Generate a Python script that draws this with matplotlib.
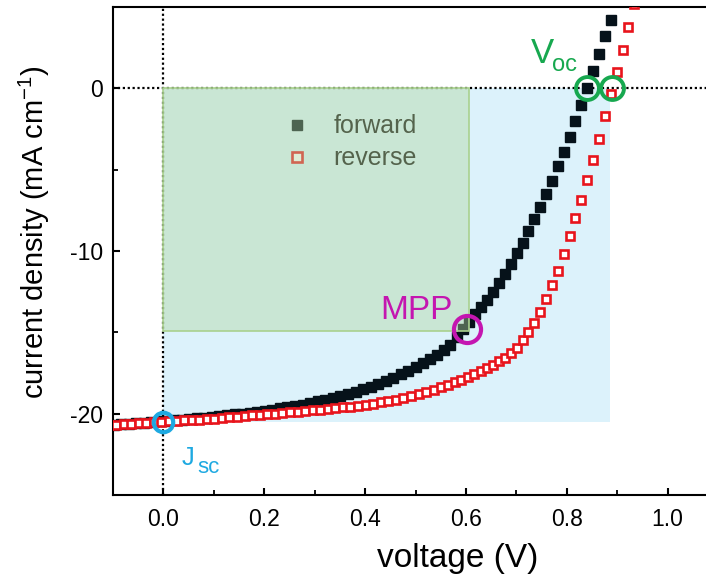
import matplotlib
matplotlib.use("Agg")
import matplotlib.pyplot as plt
import matplotlib.ticker as ticker
from matplotlib.patches import Rectangle

plt.rcParams['font.family'] = ['Liberation Sans', 'DejaVu Sans']
plt.rcParams['axes.unicode_minus'] = False

# forward sweep (V, mA cm^-1)
v_fwd = [-0.099, -0.084, -0.069, -0.054, -0.039, -0.024, -0.009, 0.006, 0.021, 0.036,
         0.051, 0.066, 0.081, 0.096, 0.111, 0.126, 0.141, 0.156, 0.171, 0.186,
         0.201, 0.216, 0.231, 0.246, 0.261, 0.276, 0.291, 0.306, 0.321, 0.336,
         0.351, 0.366, 0.381, 0.396, 0.411, 0.426, 0.441, 0.456, 0.471, 0.486,
         0.500, 0.514, 0.528, 0.542, 0.556, 0.569, 0.582, 0.595, 0.607, 0.618,
         0.630, 0.642, 0.654, 0.665, 0.677, 0.689, 0.701, 0.713, 0.724, 0.736,
         0.747, 0.759, 0.771, 0.782, 0.794, 0.806, 0.817, 0.829, 0.841, 0.852,
         0.864, 0.876, 0.887]
j_fwd = [-20.69, -20.66, -20.63, -20.60, -20.56, -20.52, -20.48, -20.44, -20.40, -20.36,
         -20.32, -20.28, -20.24, -20.20, -20.15, -20.10, -20.05, -20.00, -19.94, -19.88,
         -19.82, -19.75, -19.68, -19.61, -19.53, -19.45, -19.35, -19.25, -19.15, -19.05,
         -18.93, -18.80, -18.65, -18.50, -18.33, -18.15, -17.97, -17.78, -17.57, -17.35,
         -17.12, -16.88, -16.63, -16.37, -16.10, -15.75, -15.30, -14.80, -14.35, -13.90,
         -13.45, -13.00, -12.50, -11.95, -11.40, -10.80, -10.15, -9.50, -8.80, -8.05,
         -7.30, -6.50, -5.70, -4.80, -3.90, -3.00, -2.00, -1.05, 0.00, 1.05,
         2.10, 3.20, 4.20]

# reverse sweep
v_rev = [-0.109, -0.094, -0.079, -0.064, -0.049, -0.034, -0.019, -0.004, 0.011, 0.026,
         0.041, 0.056, 0.071, 0.086, 0.101, 0.116, 0.131, 0.146, 0.161, 0.176,
         0.191, 0.206, 0.221, 0.236, 0.251, 0.266, 0.281, 0.296, 0.311, 0.326,
         0.341, 0.356, 0.371, 0.386, 0.401, 0.416, 0.431, 0.446, 0.461, 0.476,
         0.491, 0.506, 0.521, 0.536, 0.550, 0.564, 0.578, 0.591, 0.604, 0.617,
         0.630, 0.642, 0.654, 0.666, 0.678, 0.690, 0.701, 0.713, 0.724, 0.736,
         0.747, 0.759, 0.771, 0.782, 0.794, 0.806, 0.817, 0.829, 0.841, 0.852,
         0.864, 0.876, 0.887, 0.899, 0.911, 0.922, 0.934]
j_rev = [-20.72, -20.69, -20.66, -20.63, -20.60, -20.57, -20.54, -20.51, -20.48, -20.45,
         -20.42, -20.39, -20.36, -20.33, -20.30, -20.26, -20.22, -20.19, -20.15, -20.11,
         -20.07, -20.03, -19.99, -19.95, -19.91, -19.87, -19.83, -19.79, -19.75, -19.71,
         -19.67, -19.62, -19.57, -19.51, -19.45, -19.38, -19.30, -19.22, -19.13, -19.03,
         -18.92, -18.80, -18.67, -18.53, -18.39, -18.24, -18.08, -17.92, -17.75, -17.57,
         -17.39, -17.20, -17.00, -16.78, -16.55, -16.28, -15.95, -15.50, -15.00, -14.40,
         -13.72, -12.95, -12.10, -11.20, -10.20, -9.10, -8.00, -6.85, -5.65, -4.40,
         -3.10, -1.70, -0.35, 1.00, 2.35, 3.80, 5.20]

# characteristic points
jsc = -20.5
voc_fwd = 0.84
voc_rev = 0.89
v_mpp = 0.606
j_mpp = -14.9

fig = plt.figure(figsize=(7.06, 5.81), dpi=100)
ax = fig.add_axes([113/706, 86/581, 605/706, 488/581])
ax.set_xlim(-0.1, 1.1)
ax.set_ylim(-25, 5)

# Jsc x Voc box and MPP box
ax.add_patch(Rectangle((0, jsc), voc_rev - 0.005, -jsc, fc='#dcf2fb', ec='none', zorder=0))
ax.add_patch(Rectangle((0, j_mpp), v_mpp, -j_mpp, fc=(177/255, 214/255, 158/255, 0.42),
                       ec='#a9d18e', lw=1.2, zorder=6))

ax.axhline(0, color='black', ls=(0, (1, 1.2)), lw=1.6, zorder=1)
ax.axvline(0, color='black', ls=(0, (1, 1.2)), lw=1.6, zorder=1)

ax.plot(v_fwd, j_fwd, ls='none', marker='s', ms=6.6, color='#06121a', label='forward', zorder=2)
ax.plot(v_rev, j_rev, ls='none', marker='s', ms=6.3, mfc='white', mec='#e8141c', mew=1.9,
        label='reverse', zorder=3)

# markers for Jsc, MPP, Voc
ax.plot([0], [jsc], ls='none', marker='o', ms=14, mfc='none', mec='#1ea9e1', mew=3.0, zorder=7)
ax.plot([v_mpp - 0.004], [j_mpp + 0.1], ls='none', marker='o', ms=19.5, mfc='none', mec='#c416b0', mew=3.0, zorder=7)
ax.plot([voc_fwd, voc_rev], [0, 0], ls='none', marker='o', ms=16.5, mfc='none', mec='#17a84f', mew=2.8, zorder=7)

ax.text(0.729, 1.54, 'V', fontsize=25, color='#17a84f', ha='left', va='baseline', zorder=8)
ax.text(0.771, 1.06, 'oc', fontsize=17, color='#17a84f', ha='left', va='baseline', zorder=8)
ax.text(0.574, -14.2, 'MPP', fontsize=24, color='#c416b0', ha='right', va='baseline', zorder=8)
ax.text(0.036, -23.14, 'J', fontsize=18.5, color='#1ea9e1', ha='left', va='baseline', zorder=8)
ax.text(0.068, -23.65, 'sc', fontsize=16, color='#1ea9e1', ha='left', va='baseline', zorder=8)

leg = ax.legend(loc='upper left', bbox_to_anchor=(0.284, 0.78), frameon=False, fontsize=18,
                handlelength=1.0, handletextpad=0.95, borderpad=0, borderaxespad=0,
                labelspacing=0.32, markerscale=1.1)
for t in leg.get_texts():
    t.set_color('#111111')
leg.set_zorder(5)

# axes styling
ax.xaxis.set_major_locator(ticker.MultipleLocator(0.2))
ax.xaxis.set_minor_locator(ticker.MultipleLocator(0.1))
ax.yaxis.set_major_locator(ticker.MultipleLocator(10))
ax.yaxis.set_minor_locator(ticker.MultipleLocator(5))
ax.xaxis.set_major_formatter(ticker.FormatStrFormatter('%.1f'))
ax.yaxis.set_major_formatter(ticker.FormatStrFormatter('%d'))
ax.tick_params(which='both', direction='in', top=False, right=False, labelsize=16.5)
ax.tick_params(which='major', length=5, width=1.5)
ax.tick_params(which='minor', length=3.5, width=1.3)
ax.tick_params(axis='x', pad=9)
ax.tick_params(axis='y', pad=7)
for s in ax.spines.values():
    s.set_linewidth(1.5)

ax.set_xlabel('voltage (V)', fontsize=24)
ax.set_ylabel('current density (mA cm$^{\\mathregular{-1}}$)', fontsize=21)
ax.xaxis.set_label_coords(0.570, -0.098)
ax.yaxis.set_label_coords(-0.10, 0.539)

fig.savefig('out.png', dpi=100)
